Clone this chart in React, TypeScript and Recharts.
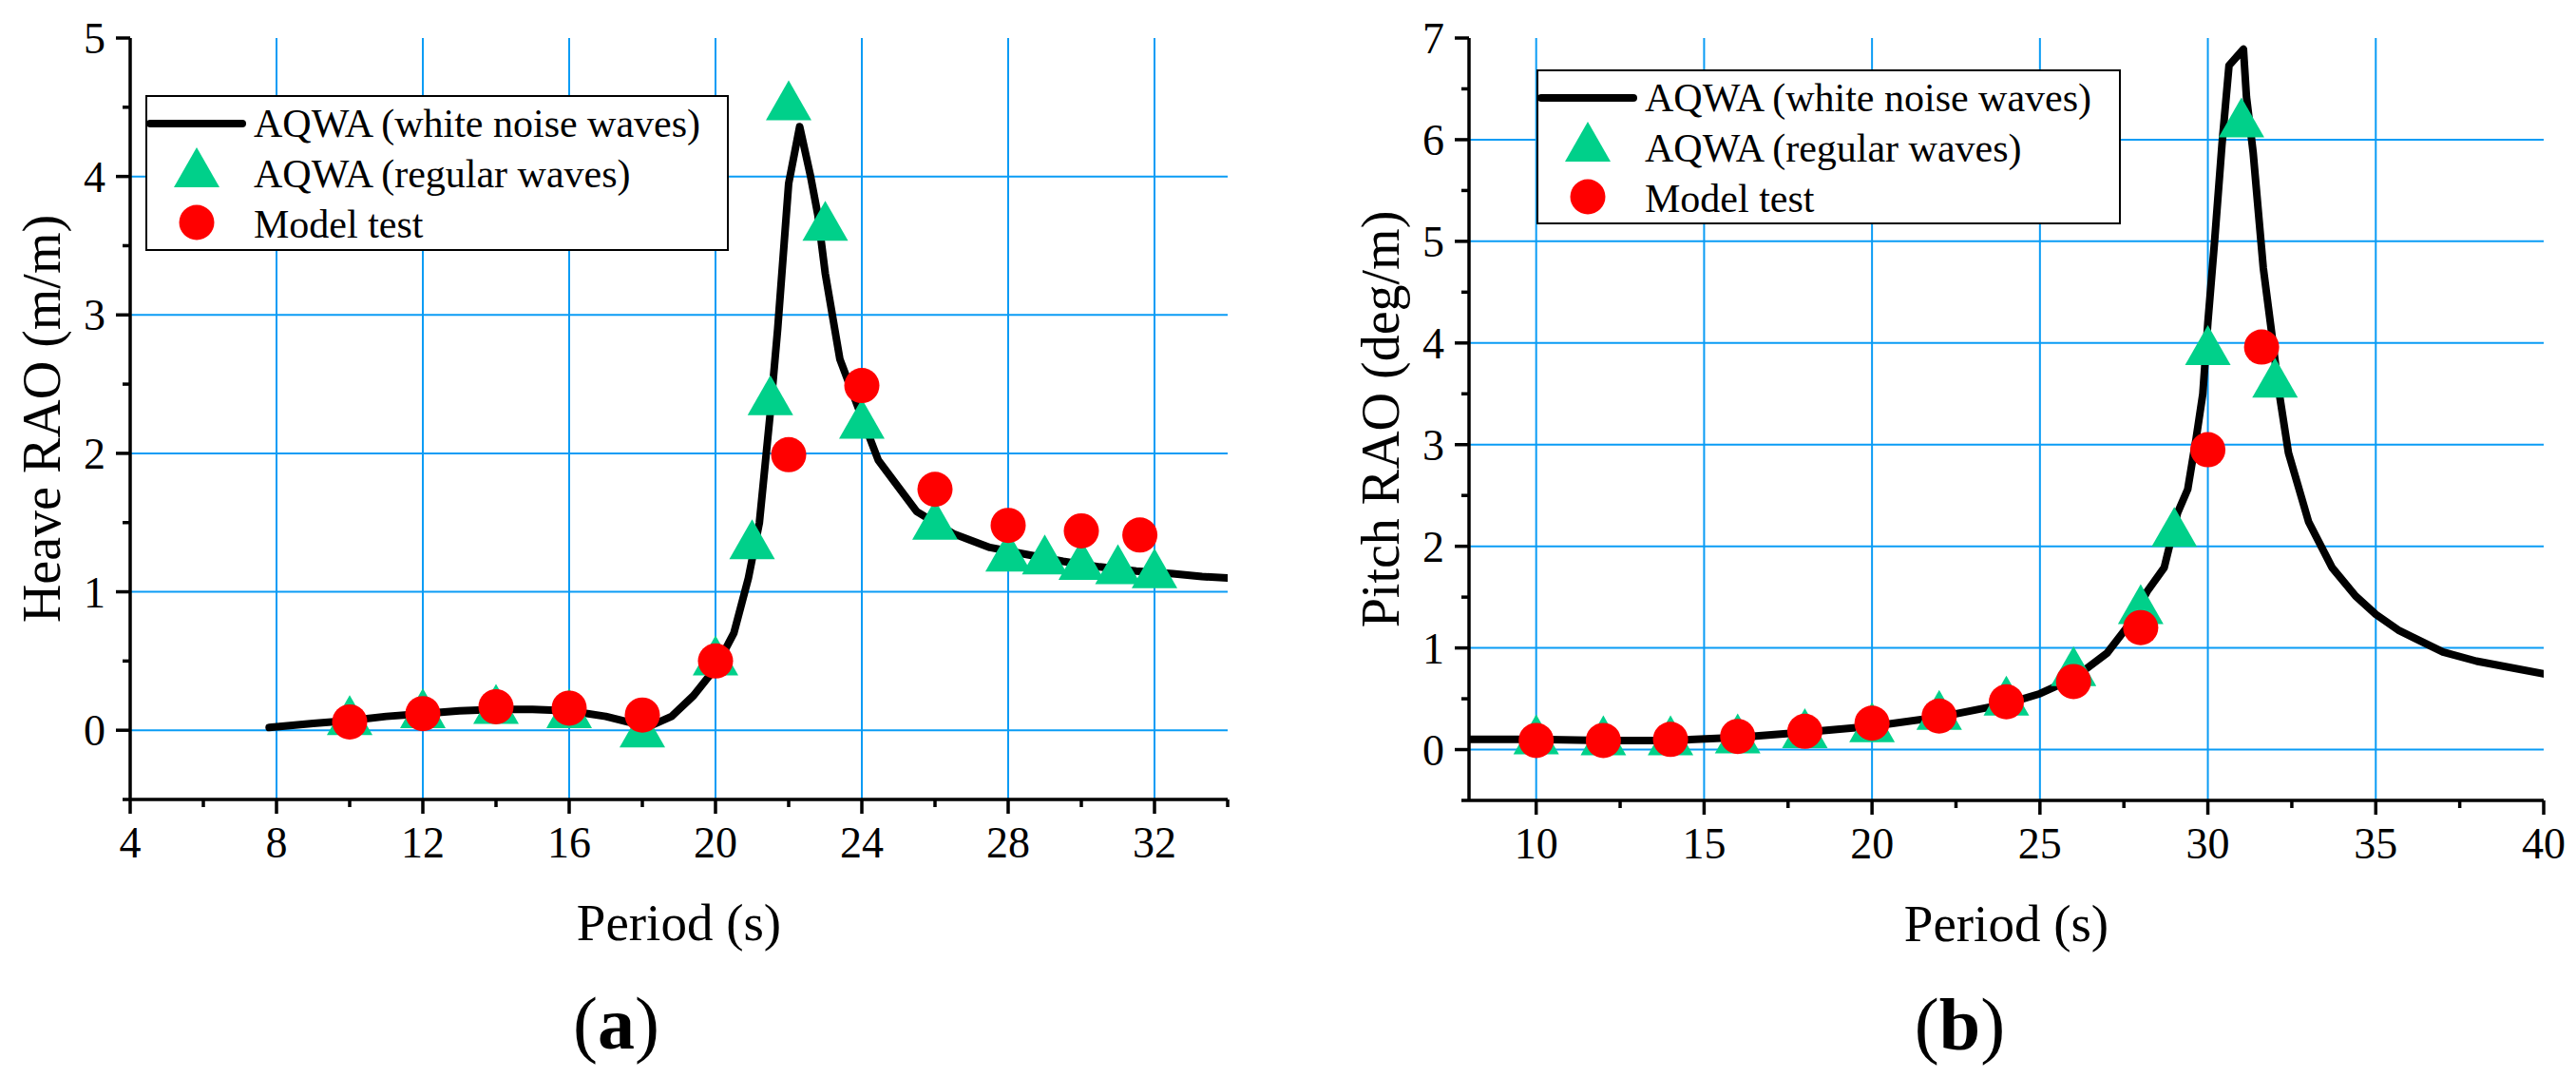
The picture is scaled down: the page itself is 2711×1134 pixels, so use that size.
import React from 'react';
import {
  ComposedChart,
  Line,
  Scatter,
  XAxis,
  YAxis,
  CartesianGrid,
  Legend,
} from 'recharts';

// ---------------------------------------------------------------------------
// Data
// ---------------------------------------------------------------------------

// (a) Heave RAO
const heaveNoisePeriods = [
  7.8, 9, 10, 11, 12, 13, 14, 15, 16, 17, 17.6, 18.2, 18.8, 19.4, 20, 20.5,
  20.9, 21.2, 21.5, 21.7, 22.0, 22.3, 22.6, 22.8, 23.0, 23.4, 23.9, 24.45,
  25.5, 26.5, 27.5, 28.5, 29.5, 30.5, 31.5, 32.5, 33.3, 34,
];
const heaveNoiseValues = [
  0.02, 0.05, 0.07, 0.1, 0.12, 0.14, 0.15, 0.15, 0.14, 0.1, 0.06, 0.03, 0.1,
  0.25, 0.45, 0.7, 1.1, 1.5, 2.3, 2.9, 3.95, 4.36, 4.0, 3.72, 3.3, 2.68, 2.33,
  1.95, 1.58, 1.42, 1.32, 1.27, 1.22, 1.18, 1.15, 1.13, 1.11, 1.1,
];
const heaveRegularPeriods = [10, 12, 14, 16, 18, 20, 21, 21.5, 22, 23, 24, 26, 28, 29, 30, 31, 32];
const heaveRegularValues = [
  0.11, 0.16, 0.19, 0.16, 0.02, 0.54, 1.38, 2.42, 4.55, 3.68, 2.25, 1.52, 1.29,
  1.27, 1.23, 1.2, 1.17,
];
const heaveTestPeriods = [10, 12, 14, 16, 18, 20, 22, 24, 26, 28, 30, 31.6];
const heaveTestValues = [0.06, 0.12, 0.17, 0.16, 0.11, 0.5, 1.99, 2.49, 1.74, 1.48, 1.44, 1.41];

// (b) Pitch RAO
const pitchNoisePeriods = [
  8, 10, 12, 14, 16, 18, 20, 22, 24, 25, 26, 27, 27.7, 28.2, 28.7, 29.1, 29.4,
  29.65, 29.85, 30.0, 30.2, 30.42, 30.63, 31.06, 31.15, 31.35, 31.65, 31.9,
  32.1, 32.4, 33.0, 33.7, 34.4, 35.0, 35.7, 37.0, 38.0, 40.0,
];
const pitchNoiseValues = [
  0.1, 0.1, 0.09, 0.09, 0.12, 0.17, 0.23, 0.32, 0.45, 0.55, 0.7, 0.95, 1.25,
  1.56, 1.79, 2.33, 2.56, 3.06, 3.5, 4.2, 5.0, 5.95, 6.73, 6.89, 6.42, 5.87,
  4.74, 4.1, 3.56, 2.92, 2.24, 1.79, 1.51, 1.33, 1.17, 0.96, 0.87, 0.745,
];
const pitchRegularPeriods = [10, 12, 14, 16, 18, 20, 22, 24, 26, 28, 29, 30, 31, 32];
const pitchRegularValues = [
  0.15, 0.14, 0.14, 0.16, 0.21, 0.27, 0.39, 0.53, 0.82, 1.43, 2.19, 3.98, 6.22, 3.66,
];
const pitchTestPeriods = [10, 12, 14, 16, 18, 20, 22, 24, 26, 28, 30, 31.6];
const pitchTestValues = [0.09, 0.09, 0.1, 0.13, 0.18, 0.26, 0.33, 0.47, 0.67, 1.2, 2.95, 3.96];

// Axis ticks
const heaveXTicks = [4, 6, 8, 10, 12, 14, 16, 18, 20, 22, 24, 26, 28, 30, 32, 34];
const heaveXMajor = [4, 8, 12, 16, 20, 24, 28, 32];
const heaveYTicks = [-0.5, 0, 0.5, 1, 1.5, 2, 2.5, 3, 3.5, 4, 4.5, 5];
const heaveYMajor = [0, 1, 2, 3, 4, 5];
const pitchXTicks = [10, 12.5, 15, 17.5, 20, 22.5, 25, 27.5, 30, 32.5, 35, 37.5, 40];
const pitchXMajor = [10, 15, 20, 25, 30, 35, 40];
const pitchYTicks = [-0.5, 0, 0.5, 1, 1.5, 2, 2.5, 3, 3.5, 4, 4.5, 5, 5.5, 6, 6.5, 7];
const pitchYMajor = [0, 1, 2, 3, 4, 5, 6, 7];

const SERIES_NAMES = ['AQWA (white noise waves)', 'AQWA (regular waves)', 'Model test'];

const GRID = '#0a9cf5';
const GREEN = '#00d08a';
const RED = '#ff0000';
const FONT = '"Liberation Serif", "Times New Roman", serif';

const zip = (xs: number[], ys: number[]) => xs.map((x, i) => ({ x, y: ys[i] }));

// ---------------------------------------------------------------------------
// Sub-components
// ---------------------------------------------------------------------------

const Triangle = (props: any) => {
  const { cx, cy } = props;
  if (cx == null || cy == null) return null;
  return (
    <polygon
      points={`${cx},${cy - 21} ${cx - 24},${cy + 21} ${cx + 24},${cy + 21}`}
      fill={GREEN}
    />
  );
};

const Dot = (props: any) => {
  const { cx, cy } = props;
  if (cx == null || cy == null) return null;
  return <circle cx={cx} cy={cy} r={18.5} fill={RED} />;
};

const makeXTick = (major: number[]) => (props: any) => {
  const { x, y, payload } = props;
  const isMajor = major.includes(payload.value);
  return (
    <g>
      <line x1={x} x2={x} y1={y} y2={y + (isMajor ? 15 : 8)} stroke="#000" strokeWidth={3.5} />
      {isMajor && (
        <text x={x} y={y + 61} textAnchor="middle" fontSize={46} fill="#000" fontFamily={FONT}>
          {payload.value}
        </text>
      )}
    </g>
  );
};

const makeYTick = (major: number[]) => (props: any) => {
  const { x, y, payload } = props;
  const isMajor = major.includes(payload.value);
  return (
    <g>
      <line x1={x - (isMajor ? 15 : 8)} x2={x} y1={y} y2={y} stroke="#000" strokeWidth={3.5} />
      {isMajor && (
        <text x={x - 26} y={y + 16} textAnchor="end" fontSize={46} fill="#000" fontFamily={FONT}>
          {payload.value}
        </text>
      )}
    </g>
  );
};

const makeYTitle = (text: string) => (props: any) => {
  const vb = props.viewBox;
  const cx = vb.x + vb.width - 93;
  const cy = vb.y + vb.height / 2;
  return (
    <text
      x={cx}
      y={cy}
      transform={`rotate(-90 ${cx} ${cy})`}
      textAnchor="middle"
      dominantBaseline="central"
      fontSize={56}
      fill="#000"
      fontFamily={FONT}
    >
      {text}
    </text>
  );
};

const makeXTitle = (panel: string, panelShift: number) => (props: any) => {
  const vb = props.viewBox;
  const cx = vb.x + vb.width / 2;
  return (
    <g fontFamily={FONT} fill="#000">
      <text x={cx} y={vb.y + 148} textAnchor="middle" fontSize={55}>
        Period (s)
      </text>
      <text x={cx + panelShift} y={vb.y + 262} textAnchor="middle" fontSize={78}>
        (<tspan fontWeight="bold">{panel}</tspan>)
      </text>
    </g>
  );
};

const LegendBox: React.FC<{ width: number; height: number }> = ({ width, height }) => (
  <svg width={width} height={height} style={{ display: 'block' }} fontFamily={FONT}>
    <rect x={1} y={1} width={width - 2} height={height - 2} fill="#fff" stroke="#000" strokeWidth={2} />
    <line x1={5} x2={102} y1={30} y2={30} stroke="#000" strokeWidth={8} strokeLinecap="round" />
    <Triangle cx={54} cy={76} />
    <Dot cx={54} cy={134} />
    <text x={114} y={44} fontSize={42} fill="#000">{SERIES_NAMES[0]}</text>
    <text x={114} y={97} fontSize={42} fill="#000">{SERIES_NAMES[1]}</text>
    <text x={114} y={150} fontSize={42} fill="#000">{SERIES_NAMES[2]}</text>
  </svg>
);

interface PanelProps {
  left: number;
  width: number;
  margin: { top: number; right: number; bottom: number; left: number };
  noise: { x: number; y: number }[];
  regular: { x: number; y: number }[];
  test: { x: number; y: number }[];
  xDomain: [number, number];
  yDomain: [number, number];
  xTicks: number[];
  xMajor: number[];
  yTicks: number[];
  yMajor: number[];
  xGrid: number[];
  yGrid: number[];
  yTitle: string;
  panel: string;
  panelShift: number;
  legendPos: { left: number; top: number; width: number; height: number };
}

const RaoPanel: React.FC<PanelProps> = (p) => (
  <div style={{ position: 'absolute', left: p.left, top: 0 }}>
    <ComposedChart width={p.width} height={1134} margin={p.margin}>
      <CartesianGrid
        stroke={GRID}
        strokeWidth={2}
        horizontalValues={p.yGrid}
        verticalValues={p.xGrid}
      />
      <XAxis
        dataKey="x"
        type="number"
        domain={p.xDomain}
        allowDataOverflow
        ticks={p.xTicks}
        interval={0}
        height={60}
        tickSize={0}
        tickMargin={0}
        tickLine={false}
        axisLine={{ stroke: '#000', strokeWidth: 3.5 }}
        tick={makeXTick(p.xMajor)}
        label={makeXTitle(p.panel, p.panelShift)}
      />
      <YAxis
        dataKey="y"
        type="number"
        domain={p.yDomain}
        allowDataOverflow
        ticks={p.yTicks}
        interval={0}
        width={100}
        tickSize={0}
        tickMargin={0}
        tickLine={false}
        axisLine={{ stroke: '#000', strokeWidth: 3.5 }}
        tick={makeYTick(p.yMajor)}
        label={makeYTitle(p.yTitle)}
      />
      <Line
        data={p.noise}
        dataKey="y"
        name={SERIES_NAMES[0]}
        stroke="#000"
        strokeWidth={8}
        strokeLinejoin="round"
        strokeLinecap="round"
        dot={false}
        activeDot={false}
        isAnimationActive={false}
      />
      <Scatter
        data={p.regular}
        dataKey="y"
        name={SERIES_NAMES[1]}
        fill={GREEN}
        shape={Triangle}
        isAnimationActive={false}
      />
      <Scatter
        data={p.test}
        dataKey="y"
        name={SERIES_NAMES[2]}
        fill={RED}
        shape={Dot}
        isAnimationActive={false}
      />
      <Legend
        layout="vertical"
        align="center"
        verticalAlign="middle"
        wrapperStyle={{ ...p.legendPos, position: 'absolute' }}
        content={() => <LegendBox width={p.legendPos.width} height={p.legendPos.height} />}
      />
    </ComposedChart>
  </div>
);

// ---------------------------------------------------------------------------
// Main component
// ---------------------------------------------------------------------------

const App: React.FC = () => (
  <div
    style={{
      position: 'absolute',
      left: 0,
      top: 0,
      width: 2711,
      height: 1134,
      background: '#fff',
      fontFamily: FONT,
      overflow: 'hidden',
    }}
  >
    <RaoPanel
      left={0}
      width={1355}
      margin={{ top: 40, right: 63, bottom: 233, left: 37 }}
      noise={zip(heaveNoisePeriods, heaveNoiseValues)}
      regular={zip(heaveRegularPeriods, heaveRegularValues)}
      test={zip(heaveTestPeriods, heaveTestValues)}
      xDomain={[4, 34]}
      yDomain={[-0.5, 5]}
      xTicks={heaveXTicks}
      xMajor={heaveXMajor}
      yTicks={heaveYTicks}
      yMajor={heaveYMajor}
      xGrid={[8, 12, 16, 20, 24, 28, 32]}
      yGrid={[0, 1, 2, 3, 4]}
      yTitle="Heave RAO (m/m)"
      panel="a"
      panelShift={-66}
      legendPos={{ left: 153, top: 100, width: 614, height: 164 }}
    />
    <RaoPanel
      left={1355}
      width={1356}
      margin={{ top: 40, right: 34, bottom: 232, left: 91 }}
      noise={zip(pitchNoisePeriods, pitchNoiseValues)}
      regular={zip(pitchRegularPeriods, pitchRegularValues)}
      test={zip(pitchTestPeriods, pitchTestValues)}
      xDomain={[8, 40]}
      yDomain={[-0.5, 7]}
      xTicks={pitchXTicks}
      xMajor={pitchXMajor}
      yTicks={pitchYTicks}
      yMajor={pitchYMajor}
      xGrid={[10, 15, 20, 25, 30, 35]}
      yGrid={[0, 1, 2, 3, 4, 5, 6]}
      yTitle="Pitch RAO (deg/m)"
      panel="b"
      panelShift={-49}
      legendPos={{ left: 262, top: 73, width: 615, height: 163 }}
    />
  </div>
);

export default App;
